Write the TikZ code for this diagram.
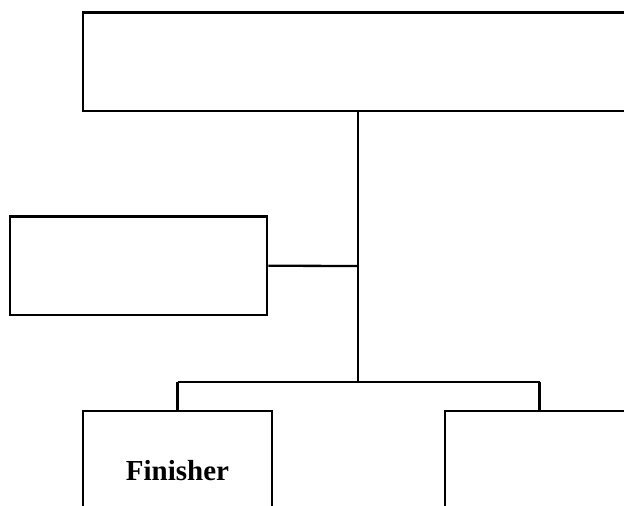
\documentclass[tikz,border=0pt]{standalone}
\usepackage{fontspec}
\setmainfont{Liberation Serif}
\begin{document}
\begin{tikzpicture}[x=1pt,y=-1pt,
  box/.style={draw=black,line width=2.6pt,inner sep=0pt,minimum width=#1},
  link/.style={draw=black,line width=2.3pt}]
\useasboundingbox (0,0) rectangle (624,506);
\clip (0,0) rectangle (624,506);
\fill[white] (0,0) rectangle (624,506);
\node[box=550pt,minimum height=98.5pt] (top) at (358,61.75) {};
\node[box=257pt,minimum height=98.5pt] (left) at (138.5,265.75) {};
\node[box=189pt,minimum height=120pt,font=\fontsize{29}{35}\selectfont\bfseries] (bl) at (177.5,471) {Finisher};
\node[box=189pt,minimum height=120pt] (br) at (539.5,471) {};
\coordinate (j1) at (358,266);
\coordinate (j2) at (358,382);
\coordinate (jl) at (177.5,382);
\coordinate (jr) at (539.5,382);
\draw[link] (top.south) -- (j2);
\draw[link] (left.east) -- (j1);
\draw[link] (jl) -- (jr);
\draw[link] (jl) -- (bl.north);
\draw[link] (jr) -- (br.north);
\end{tikzpicture}
\end{document}
